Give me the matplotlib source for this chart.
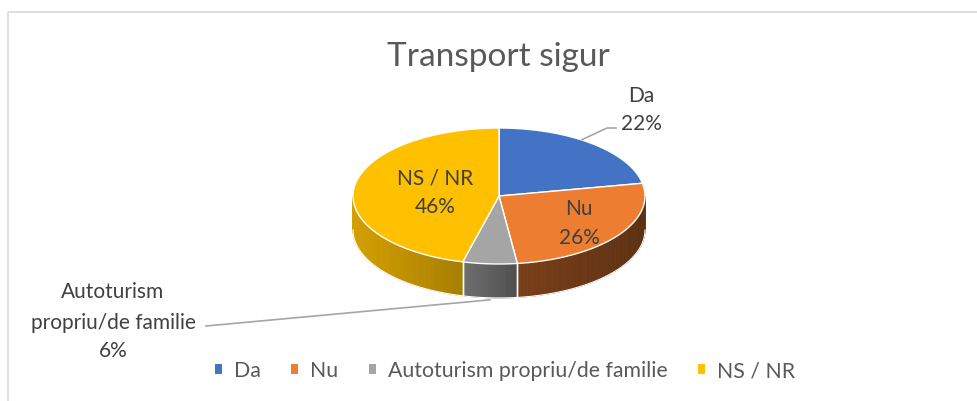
import numpy as np
import matplotlib.pyplot as plt
from matplotlib.patches import Polygon, Rectangle
from matplotlib.colors import to_rgb

# Transport sigur - 3D pie in the Excel style

labels = ["Da", "Nu", "Autoturism propriu/de familie", "NS / NR"]
label_text = ["Da", "Nu", "Autoturism\npropriu/de familie", "NS / NR"]
values = [22, 26, 6, 46]
colors = ["#4472C4", "#ED7D31", "#A5A5A5", "#FFC000"]
side_shade = [(0.5, 0.4), (0.51, 0.39), (0.68, 0.48), (0.83, 0.66)]  # left/right factor

plt.rcParams['font.family'] = ['Lato', 'DejaVu Sans']

fig = plt.figure(figsize=(9.78, 4.01), dpi=100)
ax = fig.add_axes([0, 0, 1, 1])
ax.set_xlim(0, 978)
ax.set_ylim(401, 0)
ax.axis('off')

# chart border (cropped on right and bottom)
ax.add_patch(Rectangle((8, 12), 1000, 420, fill=False, ec="#D9D9D9", lw=1.2))

cx, cy, rx, ry, depth = 499, 196, 146, 68, 34

def pt(a, dy=0):
    r = np.radians(a)
    return cx + rx * np.cos(r), cy - ry * np.sin(r) + dy

fr = np.array(values) / sum(values)
ends = 90 - 360 * np.cumsum(fr)
starts = np.concatenate([[90], ends[:-1]])

# side walls, only the front half (-180..0 deg) is visible
for i in range(len(values)):
    a0, a1 = starts[i], ends[i]
    segs = []
    for off in (0, 360):
        lo = max(min(a0, a1) + off, -180)
        hi = min(max(a0, a1) + off, 0)
        if lo < hi:
            segs.append((lo, hi))
    base = np.array(to_rgb(colors[i]))
    for lo, hi in segs:
        xl = min(pt(lo)[0], pt(hi)[0])
        xr = max(pt(lo)[0], pt(hi)[0])
        n = 60
        angs = np.linspace(lo, hi, n + 1)
        for k in range(n):
            b0, b1 = angs[k], angs[k + 1]
            xm = (pt(b0)[0] + pt(b1)[0]) / 2
            t = (xm - xl) / max(xr - xl, 1)
            f = side_shade[i][0] + (side_shade[i][1] - side_shade[i][0]) * t
            aa = np.linspace(b0, b1, 4)
            top = [pt(a) for a in aa]
            bot = [pt(a, depth) for a in aa[::-1]]
            ax.add_patch(Polygon(top + bot, closed=True, fc=base * f, ec=base * f, lw=0.6))
        for a in (lo, hi):
            if -180 < a < 0:
                x0, y0 = pt(a)
                ax.plot([x0, x0], [y0, y0 + depth], color="white", lw=1)

# top faces
for i in range(len(values)):
    aa = np.linspace(starts[i], ends[i], 120)
    poly = [(cx, cy)] + [pt(a) for a in aa]
    ax.add_patch(Polygon(poly, closed=True, fc=colors[i], ec="white", lw=1))

# outline of the bottom edge
aa = np.linspace(-180, 0, 200)
xs, ys = zip(*[pt(a, depth) for a in aa])
ax.plot(xs, ys, color="white", lw=0.8)

pct = ["%d%%" % v for v in values]
mids = (starts + ends) / 2
lab_col = "#404040"
fs = 15

# inside labels
for i, rf in [(1, 0.68), (3, 0.44)]:
    x, y = cx + rf * rx * np.cos(np.radians(mids[i])), cy - rf * ry * np.sin(np.radians(mids[i]))
    ax.text(x, y - 14, label_text[i], ha="center", va="center", fontsize=fs, color=lab_col)
    ax.text(x, y + 15, pct[i], ha="center", va="center", fontsize=fs, color=lab_col)

# Da outside label with leader
x0, y0 = pt(mids[0])
ax.plot([x0 - 10, 607, 616], [y0 - 4, 128, 128], color="#A6A6A6", lw=1.2)
ax.text(641, 96, label_text[0], ha="center", va="center", fontsize=fs, color=lab_col)
ax.text(641, 124, pct[0], ha="center", va="center", fontsize=fs, color=lab_col)

# Autoturism outside label with leader
x0, y0 = pt(mids[2], depth)
ax.plot([x0, 206], [y0 + 2, 326], color="#A6A6A6", lw=1.2)
for txt, y in zip(label_text[2].split("\n") + [pct[2]], [292, 323, 351]):
    ax.text(113, y, txt, ha="center", va="center", fontsize=fs, color=lab_col)

ax.text(498, 57, "Transport sigur", ha="center", va="center", fontsize=24, color="#595959")

# legend
handles = [Rectangle((0, 0), 1, 1, fc=c, ec="none") for c in colors]
fig.legend(handles, labels, loc="center", bbox_to_anchor=(505 / 978, 1 - 371 / 401),
           ncol=4, frameon=False, fontsize=15.3, handlelength=0.33, handleheight=0.33,
           handletextpad=0.55, columnspacing=1.45, labelcolor="#595959")

fig.savefig("out.png", dpi=100)
